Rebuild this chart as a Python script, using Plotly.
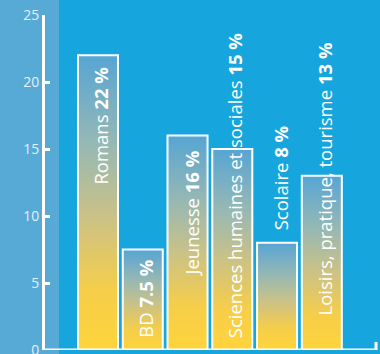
import plotly.graph_objects as go

# ---- data ----
categories = ["Romans", "BD", "Jeunesse", "Sciences humaines et sociales", "Scolaire",
              "Loisirs, pratique, tourisme"]
values = [22, 7.5, 16, 15, 8, 13]
value_labels = ["22 %", "7.5 %", "16 %", "15 %", "8 %", "13 %"]
y_ticks = [0, 5, 10, 15, 20, 25]

# ---- style / layout config ----
BG_DARK = "#16a6dd"
BG_LIGHT = "#57a9d6"
HALF_W = 0.447
grad = [[0.0, "#ffd43b"], [0.2, "#f6ce49"], [0.45, "#cbc286"],
        [0.7, "#96b8b4"], [1.0, "#56a5d4"]]
# label placement (anchor side, y in data units)
label_anchor = ["top", "bottom", "top", "bottom", "bottom", "bottom"]
label_y = [21.3, 0.75, 15.0, 0.75, 8.75, 2.45]

fig = go.Figure()
for i, (c, v) in enumerate(zip(categories, values)):
    fig.add_trace(go.Scatter(
        x=[i - HALF_W, i - HALF_W, i + HALF_W, i + HALF_W, i - HALF_W],
        y=[0, v, v, 0, 0],
        mode="lines", fill="toself",
        line=dict(color="white", width=2),
        fillgradient=dict(type="vertical", colorscale=grad),
        hoverinfo="skip", showlegend=False, name=c))

for i, (c, lab) in enumerate(zip(categories, value_labels)):
    fig.add_annotation(
        x=i, y=label_y[i], xref="x", yref="y",
        text=f"{c} <b>{lab}</b>", textangle=-90, showarrow=False,
        xanchor="center", yanchor=label_anchor[i], xshift=3,
        font=dict(family="Open Sans", size=18.5, color="white"))

# light left band
fig.add_shape(type="rect", xref="paper", yref="paper",
              x0=-0.2, x1=(59 - 45) / 332, y0=-0.1, y1=1.1,
              fillcolor=BG_LIGHT, line=dict(width=0), layer="below")
# x axis line (centered on y=0) and end tick
fig.add_shape(type="line", xref="paper", yref="y", x0=-0.005, x1=1, y0=0, y1=0,
              line=dict(color="white", width=3), layer="above")
fig.add_shape(type="line", xref="paper", yref="y", x0=0.997, x1=0.997, y0=0, y1=0.6,
              line=dict(color="white", width=3), layer="above")

fig.update_layout(
    width=380, height=354,
    margin=dict(l=45, r=3, t=15, b=4, autoexpand=False),
    paper_bgcolor=BG_DARK, plot_bgcolor="rgba(0,0,0,0)",
    showlegend=False,
    xaxis=dict(range=[-1.184, 6.233], showgrid=False, zeroline=False,
               showticklabels=False, ticks="", showline=False, fixedrange=True,
               automargin=False),
    yaxis=dict(range=[0, 25], tickvals=y_ticks, showgrid=False, zeroline=False,
               showline=True, linecolor="white", linewidth=3,
               ticks="inside", ticklen=5, tickwidth=2.5, tickcolor="white",
               ticklabeloverflow="allow", automargin=False,
               tickfont=dict(family="Open Sans", size=14, color="#e4f0f8"),
               fixedrange=True),
)

fig.write_html("out.html")
